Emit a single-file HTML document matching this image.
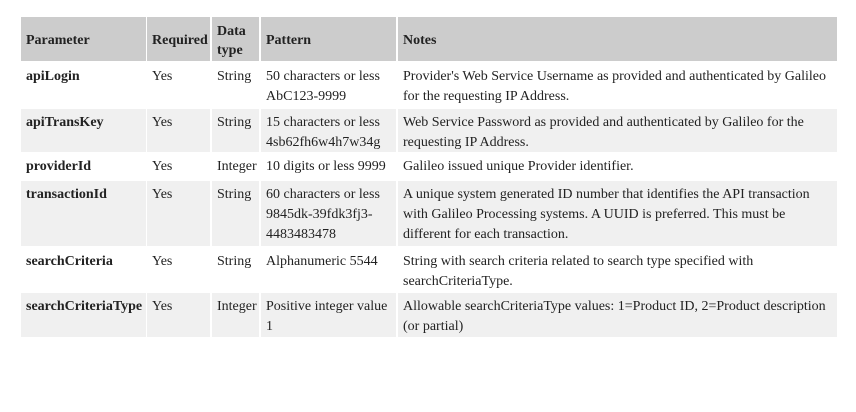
<!DOCTYPE html>
<html><head><style>
body{margin:0;background:#fff;width:856px;height:412px;overflow:hidden;position:relative;font-family:"Liberation Serif",serif;font-size:14px;line-height:20px;color:#222}
.c{position:absolute;box-sizing:border-box;padding:4px 3px 0 5px}
.h{background:#cccccc;font-weight:bold;display:flex;align-items:center;padding:3px 3px 0 5px}
.g{background:#f0f0f0}
.b{font-weight:bold}
</style></head><body>
<div class="c h" style="left:21px;top:17px;width:125px;height:44px">Parameter</div>
<div class="c h" style="left:147px;top:17px;width:63px;height:44px">Required</div>
<div class="c h" style="left:212px;top:17px;width:47px;height:44px;line-height:19px">Data<br>type</div>
<div class="c h" style="left:261px;top:17px;width:135px;height:44px">Pattern</div>
<div class="c h" style="left:398px;top:17px;width:439px;height:44px">Notes</div>

<div class="c b" style="left:21px;top:63px;width:125px;height:44px">apiLogin</div>
<div class="c" style="left:147px;top:63px;width:63px;height:44px">Yes</div>
<div class="c" style="left:212px;top:63px;width:47px;height:44px">String</div>
<div class="c" style="left:261px;top:63px;width:135px;height:44px">50 characters or less<br>AbC123-9999</div>
<div class="c" style="left:398px;top:63px;width:439px;height:44px">Provider's Web Service Username as provided and authenticated by Galileo<br>for the requesting IP Address.</div>

<div class="c b g" style="left:21px;top:109px;width:125px;height:43px">apiTransKey</div>
<div class="c g" style="left:147px;top:109px;width:63px;height:43px">Yes</div>
<div class="c g" style="left:212px;top:109px;width:47px;height:43px">String</div>
<div class="c g" style="left:261px;top:109px;width:135px;height:43px">15 characters or less<br>4sb62fh6w4h7w34g</div>
<div class="c g" style="left:398px;top:109px;width:439px;height:43px">Web Service Password as provided and authenticated by Galileo for the<br>requesting IP Address.</div>

<div class="c b" style="left:21px;top:154px;width:125px;height:25px;padding-top:3px">providerId</div>
<div class="c" style="left:147px;top:154px;width:63px;height:25px;padding-top:3px">Yes</div>
<div class="c" style="left:212px;top:154px;width:47px;height:25px;padding-top:3px">Integer</div>
<div class="c" style="left:261px;top:154px;width:135px;height:25px;padding-top:3px">10 digits or less 9999</div>
<div class="c" style="left:398px;top:154px;width:439px;height:25px;padding-top:3px">Galileo issued unique Provider identifier.</div>

<div class="c b g" style="left:21px;top:181px;width:125px;height:65px">transactionId</div>
<div class="c g" style="left:147px;top:181px;width:63px;height:65px">Yes</div>
<div class="c g" style="left:212px;top:181px;width:47px;height:65px">String</div>
<div class="c g" style="left:261px;top:181px;width:135px;height:65px">60 characters or less<br>9845dk-39fdk3fj3-<br>4483483478</div>
<div class="c g" style="left:398px;top:181px;width:439px;height:65px">A unique system generated ID number that identifies the API transaction<br>with Galileo Processing systems. A UUID is preferred. This must be<br>different for each transaction.</div>

<div class="c b" style="left:21px;top:248px;width:125px;height:43px">searchCriteria</div>
<div class="c" style="left:147px;top:248px;width:63px;height:43px">Yes</div>
<div class="c" style="left:212px;top:248px;width:47px;height:43px">String</div>
<div class="c" style="left:261px;top:248px;width:135px;height:43px">Alphanumeric 5544</div>
<div class="c" style="left:398px;top:248px;width:439px;height:43px">String with search criteria related to search type specified with<br>searchCriteriaType.</div>

<div class="c b g" style="left:21px;top:293px;width:125px;height:44px">searchCriteriaType</div>
<div class="c g" style="left:147px;top:293px;width:63px;height:44px">Yes</div>
<div class="c g" style="left:212px;top:293px;width:47px;height:44px">Integer</div>
<div class="c g" style="left:261px;top:293px;width:135px;height:44px">Positive integer value<br>1</div>
<div class="c g" style="left:398px;top:293px;width:439px;height:44px">Allowable searchCriteriaType values: 1=Product ID, 2=Product description<br>(or partial)</div>
</body></html>
